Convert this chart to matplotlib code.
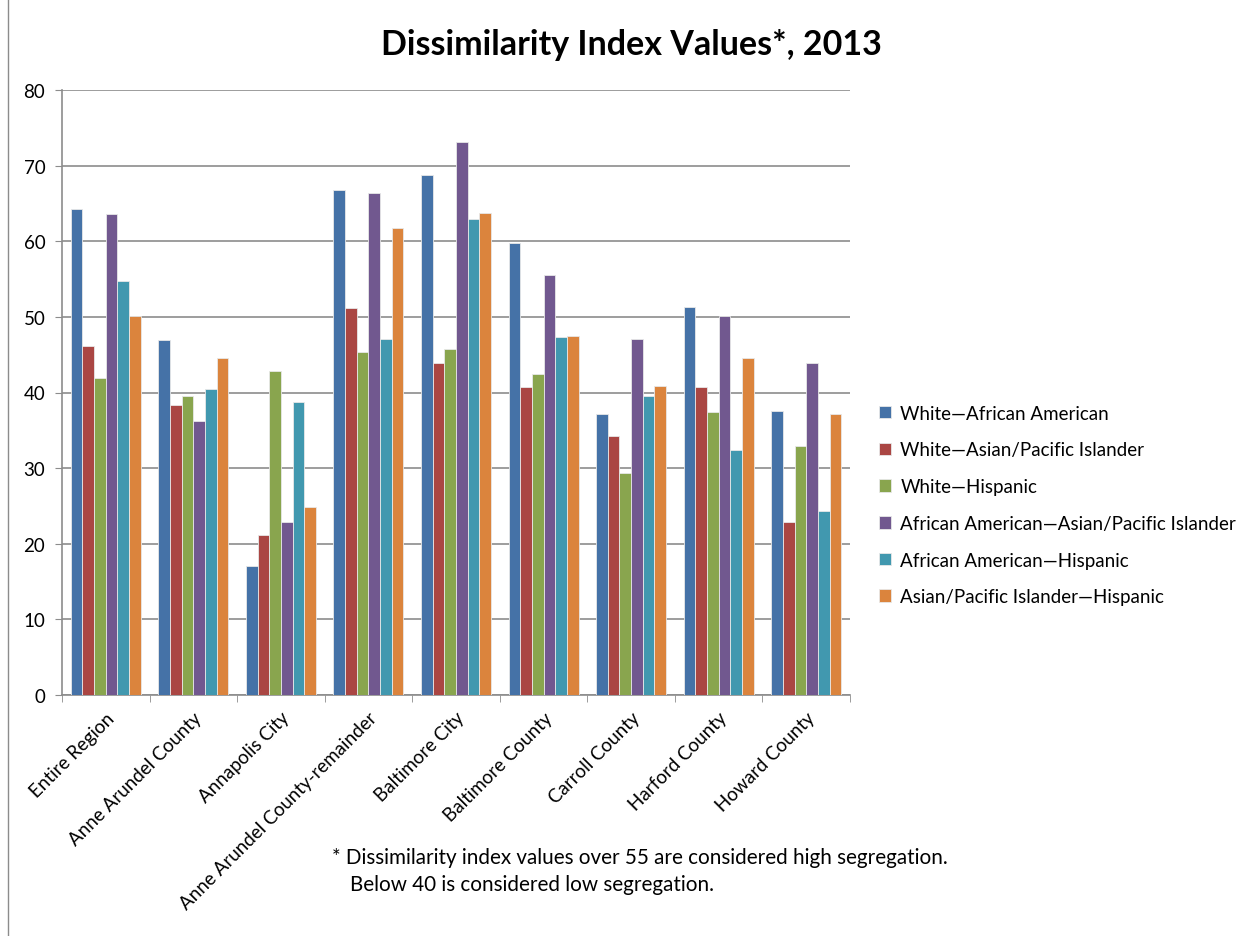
import matplotlib
matplotlib.use("Agg")
import matplotlib.pyplot as plt
import numpy as np

regions = ["Entire Region", "Anne Arundel County", "Annapolis City",
           "Anne Arundel County-remainder", "Baltimore City", "Baltimore County",
           "Carroll County", "Harford County", "Howard County"]

series_names = ["White\u2014African American",
                "White\u2014Asian/Pacific Islander",
                "White\u2014Hispanic",
                "African American\u2014Asian/Pacific Islander",
                "African American\u2014Hispanic",
                "Asian/Pacific Islander\u2014Hispanic"]

white_black = [64.2, 46.9, 17.1, 66.8, 68.7, 59.8, 37.2, 51.3, 37.6]
white_asian = [46.1, 38.4, 21.1, 51.2, 43.9, 40.7, 34.2, 40.7, 22.9]
white_hisp = [41.9, 39.6, 42.9, 45.3, 45.7, 42.4, 29.4, 37.4, 32.9]
black_asian = [63.6, 36.2, 22.9, 66.4, 73.1, 55.6, 47.1, 50.1, 43.9]
black_hisp = [54.7, 40.4, 38.8, 47.1, 63.0, 47.3, 39.6, 32.4, 24.3]
asian_hisp = [50.1, 44.5, 24.9, 61.8, 63.8, 47.5, 40.9, 44.5, 37.2]

series = [white_black, white_asian, white_hisp, black_asian, black_hisp, asian_hisp]
colors = ["#4572A7", "#AA4643", "#89A54E", "#71588F", "#4198AF", "#DB843D"]

plt.rcParams['font.family'] = ['Lato', 'DejaVu Sans']

fig = plt.figure(figsize=(12.5, 9.37), dpi=100)
ax = fig.add_axes([62 / 1250, 1 - 696 / 937, (850 - 62) / 1250, (696 - 91) / 937])

x = np.arange(len(regions))
w = 0.8 / 6
for i, vals in enumerate(series):
    ax.bar(x - 0.4 + w * (i + 0.5), vals, width=w, color=colors[i],
           edgecolor="#e8e8e8", linewidth=0.6, label=series_names[i], zorder=3)

ax.set_xlim(-0.5, len(regions) - 0.5)
ax.set_ylim(0, 80)
ax.set_yticks(range(0, 81, 10))
ax.yaxis.grid(True, color="#8c8c8c", linewidth=1.2, zorder=0)
ax.tick_params(axis='y', labelsize=13.5, length=5, color="#8c8c8c", pad=7)
for s in ["top", "right"]:
    ax.spines[s].set_visible(False)
for s in ["left", "bottom"]:
    ax.spines[s].set_color("#8c8c8c")
    ax.spines[s].set_linewidth(1.2)

ax.set_xticks(x)
ax.set_xticklabels(regions, rotation=45, ha="right", rotation_mode="anchor", fontsize=13.5)
ax.tick_params(axis='x', length=0, pad=10)
ax.set_xticks(np.arange(-0.5, len(regions)), minor=True)
ax.tick_params(axis='x', which='minor', length=5, color="#8c8c8c")

fig.text(631 / 1250, 1 - 45 / 937, "Dissimilarity Index Values*, 2013", ha="center", va="center",
         fontsize=24.5, fontweight="bold")

ax.legend(loc="center left", bbox_to_anchor=(1.015, 0.314), frameon=False,
          fontsize=13.5, handlelength=0.65, handleheight=0.65, labelspacing=1.05,
          handletextpad=0.5)

fig.text(332 / 1250, 1 - 858 / 937,
         "* Dissimilarity index values over 55 are considered high segregation.",
         ha="left", va="center", fontsize=14.9)
fig.text(350 / 1250, 1 - 885 / 937, "Below 40 is considered low segregation.",
         ha="left", va="center", fontsize=14.9)

fig.add_artist(plt.Rectangle((8 / 1250, -0.01), 1.2, 1.02, transform=fig.transFigure,
                             fill=False, edgecolor="#8c8c8c", linewidth=1))

fig.savefig("out.png", dpi=100)
